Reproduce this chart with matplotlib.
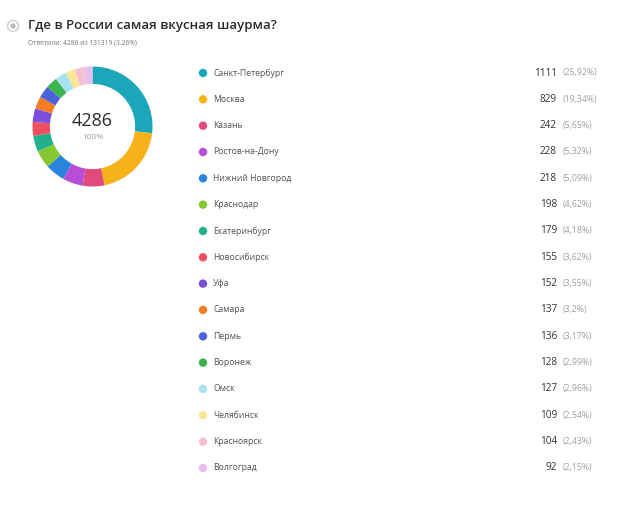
import matplotlib.pyplot as plt
from matplotlib.patches import Circle

# -----------------------------------
# Data
# -----------------------------------

cities = [
    "Санкт-Петербург", "Москва", "Казань", "Ростов-на-Дону",
    "Нижний Новгород", "Краснодар", "Екатеринбург", "Новосибирск",
    "Уфа", "Самара", "Пермь", "Воронеж", "Омск", "Челябинск",
    "Красноярск", "Волгоград",
]
votes = [1111, 829, 242, 228, 218, 198, 179, 155, 152, 137, 136, 128, 127, 109, 104, 92]
shares = ["25,92%", "19,34%", "5,65%", "5,32%", "5,09%", "4,62%", "4,18%", "3,62%",
          "3,55%", "3,2%", "3,17%", "2,99%", "2,96%", "2,54%", "2,43%", "2,15%"]
colors = [
    "#1ba6ba", "#f5b21a", "#e04a7c", "#b64ed6", "#2a84dc", "#84c72e",
    "#22b08c", "#ee5060", "#7a4fdc", "#f47d24", "#4c62da", "#3bb34e",
    "#a6e2ee", "#fbe598", "#f6c0d2", "#e6bff0",
]

total = 4286
respondents = 131319

plt.rcParams["font.family"] = ["Open Sans", "DejaVu Sans"]

W, H = 630, 512
fig = plt.figure(figsize=(W / 100, H / 100), dpi=100)
fig.patch.set_facecolor("white")

# -----------------------------------
# Background axis in pixel units
# -----------------------------------

ax = fig.add_axes([0, 0, 1, 1])
ax.set_xlim(0, W)
ax.set_ylim(H, 0)
ax.axis("off")

ax.add_patch(Circle((13, 26), 5.5, facecolor="white", edgecolor="#d5d5d5", linewidth=1.2))
ax.add_patch(Circle((13, 26), 2.6, facecolor="#b8b8b8", edgecolor="none"))

ax.text(28, 26, "Где в России самая вкусная шаурма?",
        fontsize=9.5, fontweight="semibold", color="#2b2b2b", va="center", ha="left")
ax.text(28, 43, f"Ответили: {total} из {respondents} ({total / respondents * 100:.2f}%)",
        fontsize=4.8, color="#777777", va="center", ha="left")

# -----------------------------------
# Legend rows
# -----------------------------------

row0 = 73
step = 26.33

for i, (city, v, s, c) in enumerate(zip(cities, votes, shares, colors)):
    y = row0 + i * step
    ax.add_patch(Circle((203, y), 4.2, facecolor=c, edgecolor="none"))
    ax.text(213, y, city, fontsize=6.2, color="#505050", va="center", ha="left")
    ax.text(557, y, str(v), fontsize=7.2, color="#333333", va="center", ha="right")
    ax.text(563, y, f"({s})", fontsize=6.3, color="#a0a0a0", va="center", ha="left")

# -----------------------------------
# Donut
# -----------------------------------

cx, cy, r = 92.5, 126.5, 60
dax = fig.add_axes([(cx - r) / W, (H - cy - r) / H, 2 * r / W, 2 * r / H])
dax.pie(
    votes,
    colors=colors,
    startangle=90,
    counterclock=False,
    radius=1.0,
    wedgeprops=dict(width=0.29, linewidth=0),
)
dax.set_xlim(-1, 1)
dax.set_ylim(-1, 1)
dax.set_aspect("equal")
dax.text(0, 0.09, str(total), fontsize=13, color="#2b2b2b", ha="center", va="center")
dax.text(0, -0.18, "100%", fontsize=6.0, color="#999999", ha="center", va="center")

fig.savefig("out.png", dpi=100, facecolor="white")
